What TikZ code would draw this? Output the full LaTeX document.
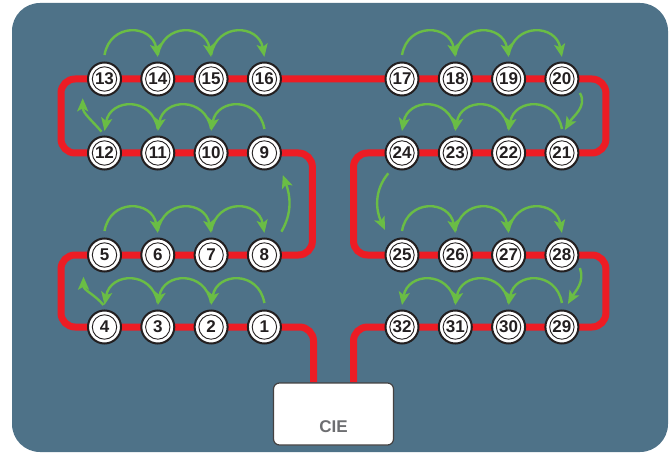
\documentclass[tikz,border=0pt]{standalone}
\usepackage{fontspec}
\setmainfont{Liberation Sans}
\usetikzlibrary{arrows.meta, matrix, backgrounds}

\definecolor{panel}{RGB}{78,114,136}
\definecolor{wirered}{RGB}{237,28,36}
\definecolor{hopgreen}{RGB}{106,189,69}
\definecolor{ink}{RGB}{35,31,32}
\definecolor{hostgray}{RGB}{109,110,113}

\begin{document}
\begin{tikzpicture}[x = 1pt, y = 1pt,
    station/.style = {circle, draw = ink, line width = 2pt, fill = white, minimum size = 33pt, inner sep = 0pt, outer sep = 1pt, anchor = center,
      text = ink, font = \fontsize{17}{18}\selectfont\bfseries,
      path picture = {\draw[ink, line width = 0.9pt] (path picture bounding box.center) circle (12.2pt);}},
    wire/.style = {draw = wirered, line width = 7pt, rounded corners = 14pt},
    hop/.style = {draw = hopgreen, line width = 2.4pt, -{Stealth[length = 13pt, width = 11pt, inset = 3pt]}},
    host/.style = {draw = ink!85, line width = 1.2pt, fill = white, rounded corners = 6pt, minimum width = 120pt, minimum height = 62pt},
    host text/.style = {text = hostgray, font = \fontsize{17}{20}\selectfont\bfseries, inner sep = 0pt}]
  \useasboundingbox (0,0) rectangle (671,-454);
  \matrix (m) [matrix of nodes, nodes = {station}, column sep = 18.3pt, row sep = 37pt] at (333.2,-203)
  {
    13 & 14 & 15 & 16 &[84.3pt] 17 & 18 & 19 & 20 \\[2pt]
    12 & 11 & 10 & 9  & 24 & 23 & 22 & 21 \\[30pt]
    5  & 6  & 7  & 8  & 25 & 26 & 27 & 28 \\
    4  & 3  & 2  & 1  & 32 & 31 & 30 & 29 \\
  };
  \node[host] (cie) at (333.5,-414) {};
  \node[host text] (cie label) at ([yshift = -13pt]cie.center) {CIE};
  \begin{pgfonlayer}{background}
    \fill[panel, rounded corners = 28pt] (12,-3) rectangle (668,-452);
    \draw[wire] ([xshift = -20pt]cie.north) |- (m-4-4.center) -- (m-4-1.center)
      -| ([xshift = -43.5pt]m-3-1.center) -- (m-3-4.center)
      -| ([xshift = 48pt]m-2-4.center) -- (m-2-1.center)
      -| ([xshift = -43.5pt]m-1-1.center) -- (m-1-8.center)
      -| ([xshift = 44pt]m-2-8.center) -- (m-2-5.center)
      -| ([xshift = -48.5pt]m-3-5.center) -- (m-3-8.center)
      -| ([xshift = 44pt]m-4-8.center) -- (m-4-5.center)
      -| ([xshift = 20pt]cie.north);
  \end{pgfonlayer}
  % hops along the rows
  \foreach \r in {1,3}
    \foreach \a/\b in {1/2,2/3,3/4,5/6,6/7,7/8}
      \draw[hop] ([yshift = 24pt]m-\r-\a.center) to[out = 80, in = 100, looseness = 1.6] ([yshift = 22pt]m-\r-\b.center);
  \foreach \r in {2,4}
    \foreach \a/\b in {2/1,3/2,4/3,6/5,7/6,8/7}
      \draw[hop] ([yshift = 24pt]m-\r-\a.center) to[out = 100, in = 80, looseness = 1.6] ([yshift = 22pt]m-\r-\b.center);
  % hops between the rows
  \draw[hop] ([shift = {(-1,22)}]m-4-1.center) to[out = 130, in = -90] ([shift = {(-21,-21.7)}]m-3-1.center);
  \draw[hop] ([shift = {(17,23.3)}]m-3-4.center) to[out = 60, in = -70] ([shift = {(18.4,-22)}]m-2-4.center);
  \draw[hop] ([shift = {(-3,21.3)}]m-2-1.center) to[out = 130, in = -90] ([shift = {(-21.8,-19.3)}]m-1-1.center);
  \draw[hop] ([shift = {(18,-14)}]m-1-8.center) to[out = -60, in = 60] ([shift = {(3,23)}]m-2-8.center);
  \draw[hop] ([shift = {(-13.7,-20.3)}]m-2-5.center) to[out = -130, in = 115] ([shift = {(-17,25)}]m-3-5.center);
  \draw[hop] ([shift = {(18,-13)}]m-3-8.center) to[out = -70, in = 60] ([shift = {(6,23)}]m-4-8.center);
\end{tikzpicture}
\end{document}
